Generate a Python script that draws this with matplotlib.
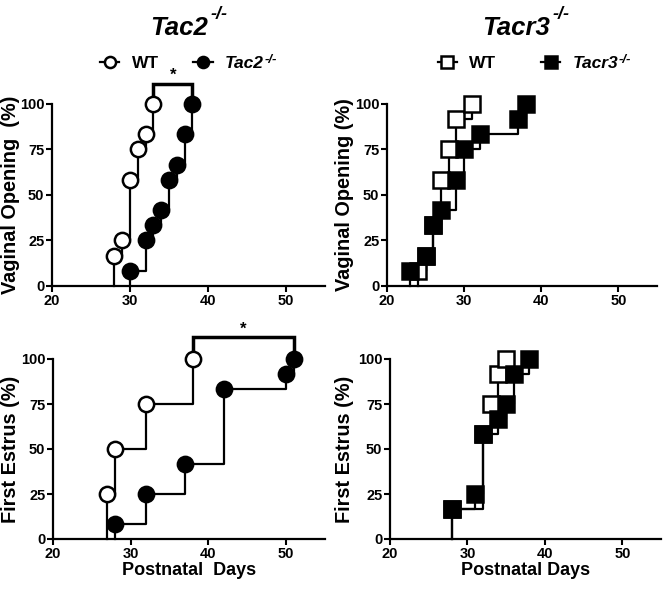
import matplotlib
matplotlib.use("Agg")
import matplotlib.pyplot as plt
from matplotlib.lines import Line2D

plt.rcParams['font.family'] = ['Liberation Sans', 'DejaVu Sans']
plt.rcParams['font.weight'] = 'bold'

# ---- data ----
# Top-left: Vaginal opening, Tac2
vo_tac2_wt_days = [28, 29, 30, 31, 32, 33]
vo_tac2_wt_pct = [16.7, 25, 58.3, 75, 83.3, 100]
vo_tac2_ko_days = [30, 32, 33, 34, 35, 36, 37, 38]
vo_tac2_ko_pct = [8.3, 25, 33.3, 41.7, 58.3, 66.7, 83.3, 100]
# Top-right: Vaginal opening, Tacr3
vo_tacr3_wt_days = [24, 25, 26, 27, 28, 29, 31]
vo_tacr3_wt_pct = [8.3, 16.7, 33.3, 58.3, 75, 91.7, 100]
vo_tacr3_ko_days = [23, 25, 26, 27, 29, 30, 32, 37, 38]
vo_tacr3_ko_pct = [8.3, 16.7, 33.3, 41.7, 58.3, 75, 83.3, 91.7, 100]
# Bottom-left: First estrus, Tac2
fe_tac2_wt_days = [27, 28, 32, 38]
fe_tac2_wt_pct = [25, 50, 75, 100]
fe_tac2_ko_days = [28, 32, 37, 42, 50, 51]
fe_tac2_ko_pct = [8.3, 25, 41.7, 83.3, 91.7, 100]
# Bottom-right: First estrus, Tacr3
fe_tacr3_wt_days = [28, 32, 33, 34, 35]
fe_tacr3_wt_pct = [16.7, 58.3, 75, 91.7, 100]
fe_tacr3_ko_days = [28, 31, 32, 34, 35, 36, 38]
fe_tacr3_ko_pct = [16.7, 25, 58.3, 66.7, 75, 91.7, 100]

# significance brackets: (start day, end day, height)
sig_vo_tac2 = (33, 38, 111)
sig_fe_tac2 = (38, 51, 112)

x_ticks = [20, 30, 40, 50]
y_ticks = [0, 25, 50, 75, 100]

W, H = 664, 589
fig = plt.figure(figsize=(W / 100, H / 100), dpi=100)


def box(l, r, b, t):
    return [l / W, 1 - b / H, (r - l) / W, (b - t) / H]


ax_tl = fig.add_axes(box(52, 325, 286, 104))
ax_tr = fig.add_axes(box(387, 657, 286, 104))
ax_bl = fig.add_axes(box(53, 325, 539, 359))
ax_br = fig.add_axes(box(390, 661, 539, 359))


def style(ax, ylabel, label_right_px, xlabel=None):
    ax.set_xlim(20, 55)
    ax.set_ylim(0, 100)
    ax.set_xticks(x_ticks)
    ax.set_yticks(y_ticks)
    for s in ['top', 'right']:
        ax.spines[s].set_visible(False)
    for s in ['left', 'bottom']:
        ax.spines[s].set_linewidth(1.6)
    ax.tick_params(width=1.5, length=4, labelsize=10.5, pad=1.5)
    for lab in ax.get_xticklabels() + ax.get_yticklabels():
        lab.set_fontweight('bold')
    ax.set_ylabel(ylabel, fontsize=14.3, fontweight='bold')
    pos = ax.get_position()
    ax.yaxis.set_label_coords((label_right_px / W - pos.x0) / pos.width, 0.5)
    if xlabel:
        ax.set_xlabel(xlabel, fontsize=13, fontweight='bold', labelpad=1)


def km(ax, days, pct, marker, filled):
    xs = [days[0]] + list(days)
    ys = [0] + list(pct)
    ax.plot(xs, ys, drawstyle='steps-post', color='black', lw=1.6,
            clip_on=False, zorder=2)
    ax.plot(days, pct, ls='none', marker=marker, ms=11 if marker == 'o' else 11.5,
            mew=1.8, mec='black', mfc='black' if filled else 'white',
            clip_on=False, zorder=3)


def bracket(ax, sig):
    x0, x1, h = sig
    ax.plot([x0, x0, x1, x1], [h - 7, h, h, h - 7], color='black', lw=2.5,
            clip_on=False, solid_joinstyle='miter')
    ax.text((x0 + x1) / 2, h + 0.5, '*', ha='center', va='bottom',
            fontsize=12, fontweight='bold')


km(ax_tl, vo_tac2_wt_days, vo_tac2_wt_pct, 'o', False)
km(ax_tl, vo_tac2_ko_days, vo_tac2_ko_pct, 'o', True)
bracket(ax_tl, sig_vo_tac2)
style(ax_tl, 'Vaginal Opening  (%)', 20)

km(ax_tr, vo_tacr3_wt_days, vo_tacr3_wt_pct, 's', False)
km(ax_tr, vo_tacr3_ko_days, vo_tacr3_ko_pct, 's', True)
style(ax_tr, 'Vaginal Opening (%)', 354)

km(ax_bl, fe_tac2_wt_days, fe_tac2_wt_pct, 'o', False)
km(ax_bl, fe_tac2_ko_days, fe_tac2_ko_pct, 'o', True)
bracket(ax_bl, sig_fe_tac2)
style(ax_bl, 'First Estrus (%)', 20, 'Postnatal  Days')

km(ax_br, fe_tacr3_wt_days, fe_tacr3_wt_pct, 's', False)
km(ax_br, fe_tacr3_ko_days, fe_tacr3_ko_pct, 's', True)
style(ax_br, 'First Estrus (%)', 354, 'Postnatal Days')

fig.canvas.draw()

# titles
for name, cx in [('Tac2', 179), ('Tacr3', 516)]:
    t = fig.text(cx / W, 1 - 28 / H, name, ha='center', va='center',
                 fontsize=18.5, fontweight='bold', style='italic')
    fig.canvas.draw()
    plt.annotate('-/-', xy=(1, 0.5), xycoords=t, xytext=(2, 10),
                 textcoords='offset points', ha='left', va='center',
                 fontsize=13, fontweight='bold', style='italic',
                 annotation_clip=False)


# legends
def legend(marker, ko_name, cx, colsp):
    hs = [Line2D([], [], color='black', lw=1.6, marker=marker, ms=8, mew=1.8,
                 mfc='white', mec='black'),
          Line2D([], [], color='black', lw=1.6, marker=marker, ms=8, mew=1.8,
                 mfc='black', mec='black')]
    leg = fig.legend(hs, ['WT', ko_name], ncol=2, loc='center',
                     bbox_to_anchor=(cx / W, 1 - 63 / H), frameon=False,
                     handlelength=1.1, handletextpad=0.7, columnspacing=colsp,
                     prop={'size': 12.5, 'weight': 'bold'})
    txt = leg.get_texts()[1]
    txt.set_style('italic')
    fig.canvas.draw()
    plt.annotate('-/-', xy=(1, 0), xycoords=txt, xytext=(0.5, 3),
                 textcoords='offset points', ha='left', va='bottom',
                 fontsize=9.5, fontweight='bold', style='italic',
                 annotation_clip=False)


legend('o', 'Tac2', 182, 2.0)
legend('s', 'Tacr3', 528, 2.6)

fig.savefig('out.png', dpi=100)
